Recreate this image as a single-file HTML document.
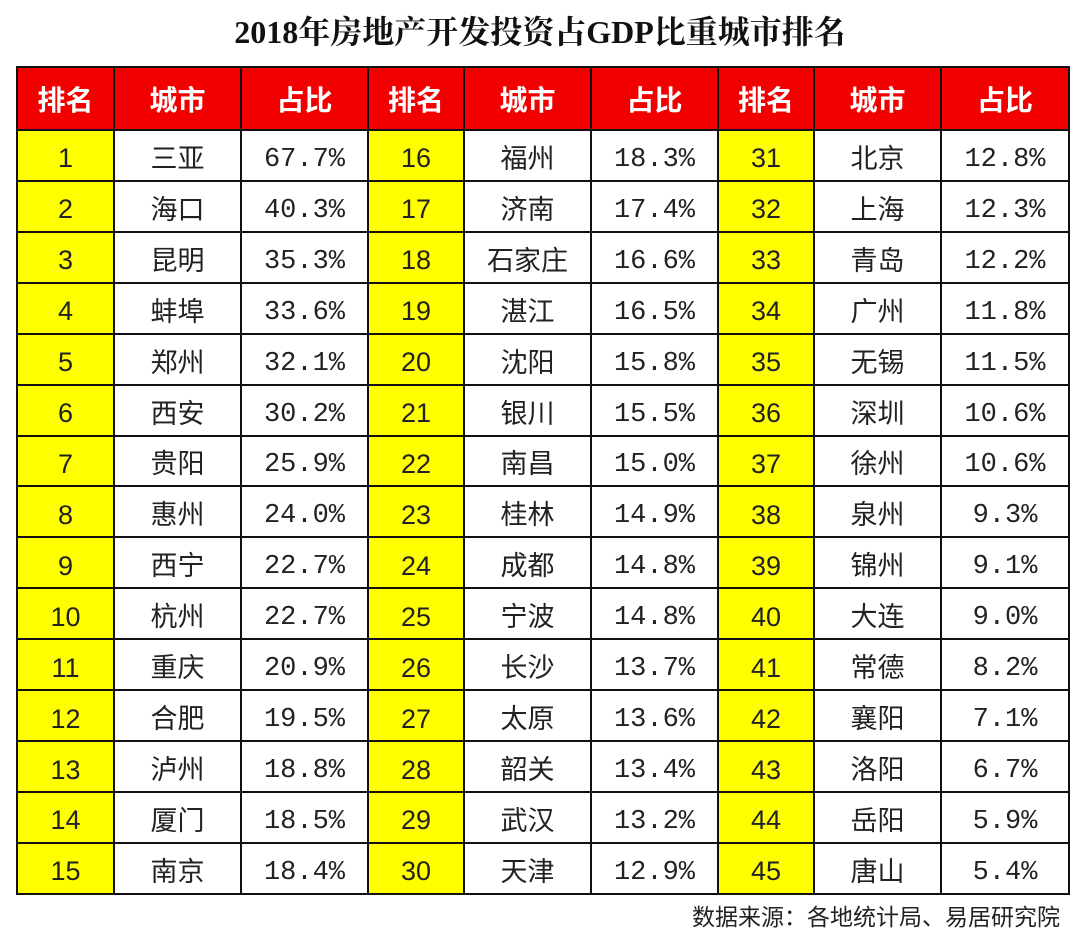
<!DOCTYPE html>
<html><head><meta charset="utf-8"><style>
html,body{margin:0;padding:0;background:#fff;width:1080px;height:938px;overflow:hidden;}
body{position:relative;font-family:"Liberation Sans","Noto Sans CJK SC",sans-serif;}
.title{position:absolute;left:0;top:12px;width:1080px;text-align:center;font-family:"Liberation Serif","Noto Serif CJK SC",serif;font-weight:bold;font-size:32px;color:#111;line-height:40px;}
table{position:absolute;left:16px;top:66px;width:1052px;height:829px;border-collapse:collapse;table-layout:fixed;}
td{border:2px solid #111;text-align:center;padding:10px 0 0 0;font-size:27px;line-height:1;color:#222;font-family:"Liberation Mono","Noto Sans CJK SC",monospace;vertical-align:middle;}
td.c{font-family:"Noto Sans CJK SC",sans-serif;padding-top:2px;}
tr.h td{background:#f20000;color:#fff;font-weight:bold;height:61px;font-family:"Noto Sans CJK SC",sans-serif;font-size:28px;padding:0;}
td.y{background:#ffff00;font-family:"Liberation Sans",sans-serif;padding-top:7px;}
.src{position:absolute;right:20px;top:898px;font-size:23px;color:#222;font-family:"Noto Sans CJK SC",sans-serif;line-height:34px;}
</style></head><body>
<div class="title">2018年房地产开发投资占GDP比重城市排名</div>
<table>
<colgroup><col style="width:97px"><col style="width:127px"><col style="width:127px"><col style="width:96px"><col style="width:127px"><col style="width:127px"><col style="width:96px"><col style="width:127px"><col style="width:128px"></colgroup>
<tr class="h"><td>排名</td><td>城市</td><td>占比</td><td>排名</td><td>城市</td><td>占比</td><td>排名</td><td>城市</td><td>占比</td></tr>
<tr><td class="y">1</td><td class="c">三亚</td><td>67.7%</td><td class="y">16</td><td class="c">福州</td><td>18.3%</td><td class="y">31</td><td class="c">北京</td><td>12.8%</td></tr>
<tr><td class="y">2</td><td class="c">海口</td><td>40.3%</td><td class="y">17</td><td class="c">济南</td><td>17.4%</td><td class="y">32</td><td class="c">上海</td><td>12.3%</td></tr>
<tr><td class="y">3</td><td class="c">昆明</td><td>35.3%</td><td class="y">18</td><td class="c">石家庄</td><td>16.6%</td><td class="y">33</td><td class="c">青岛</td><td>12.2%</td></tr>
<tr><td class="y">4</td><td class="c">蚌埠</td><td>33.6%</td><td class="y">19</td><td class="c">湛江</td><td>16.5%</td><td class="y">34</td><td class="c">广州</td><td>11.8%</td></tr>
<tr><td class="y">5</td><td class="c">郑州</td><td>32.1%</td><td class="y">20</td><td class="c">沈阳</td><td>15.8%</td><td class="y">35</td><td class="c">无锡</td><td>11.5%</td></tr>
<tr><td class="y">6</td><td class="c">西安</td><td>30.2%</td><td class="y">21</td><td class="c">银川</td><td>15.5%</td><td class="y">36</td><td class="c">深圳</td><td>10.6%</td></tr>
<tr><td class="y">7</td><td class="c">贵阳</td><td>25.9%</td><td class="y">22</td><td class="c">南昌</td><td>15.0%</td><td class="y">37</td><td class="c">徐州</td><td>10.6%</td></tr>
<tr><td class="y">8</td><td class="c">惠州</td><td>24.0%</td><td class="y">23</td><td class="c">桂林</td><td>14.9%</td><td class="y">38</td><td class="c">泉州</td><td>9.3%</td></tr>
<tr><td class="y">9</td><td class="c">西宁</td><td>22.7%</td><td class="y">24</td><td class="c">成都</td><td>14.8%</td><td class="y">39</td><td class="c">锦州</td><td>9.1%</td></tr>
<tr><td class="y">10</td><td class="c">杭州</td><td>22.7%</td><td class="y">25</td><td class="c">宁波</td><td>14.8%</td><td class="y">40</td><td class="c">大连</td><td>9.0%</td></tr>
<tr><td class="y">11</td><td class="c">重庆</td><td>20.9%</td><td class="y">26</td><td class="c">长沙</td><td>13.7%</td><td class="y">41</td><td class="c">常德</td><td>8.2%</td></tr>
<tr><td class="y">12</td><td class="c">合肥</td><td>19.5%</td><td class="y">27</td><td class="c">太原</td><td>13.6%</td><td class="y">42</td><td class="c">襄阳</td><td>7.1%</td></tr>
<tr><td class="y">13</td><td class="c">泸州</td><td>18.8%</td><td class="y">28</td><td class="c">韶关</td><td>13.4%</td><td class="y">43</td><td class="c">洛阳</td><td>6.7%</td></tr>
<tr><td class="y">14</td><td class="c">厦门</td><td>18.5%</td><td class="y">29</td><td class="c">武汉</td><td>13.2%</td><td class="y">44</td><td class="c">岳阳</td><td>5.9%</td></tr>
<tr><td class="y">15</td><td class="c">南京</td><td>18.4%</td><td class="y">30</td><td class="c">天津</td><td>12.9%</td><td class="y">45</td><td class="c">唐山</td><td>5.4%</td></tr>
</table>
<div class="src">数据来源：各地统计局、易居研究院</div>
</body></html>
